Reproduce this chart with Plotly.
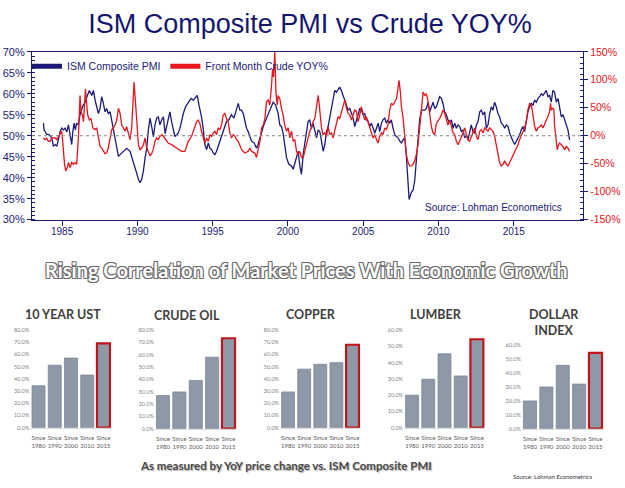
import plotly.graph_objects as go

# ---------------- DATA ----------------
ism_years = [
    1983.76, 1983.80, 1983.98, 1984.09, 1984.20, 1984.31, 1984.42, 1984.54, 1984.65, 1984.76, 1984.87, 1984.98,
    1985.09, 1985.20, 1985.31, 1985.42, 1985.53, 1985.64, 1985.71, 1985.80, 1985.88, 1985.97, 1986.08, 1986.19,
    1986.37, 1986.53, 1986.68, 1986.81, 1986.97, 1987.08, 1987.19, 1987.30, 1987.41, 1987.52, 1987.63, 1987.74,
    1987.85, 1987.96, 1988.07, 1988.19, 1988.30, 1988.41, 1988.52, 1988.63, 1988.74, 1988.85, 1989.07, 1989.29,
    1989.51, 1989.73, 1989.91, 1990.07, 1990.18, 1990.29, 1990.40, 1990.51, 1990.62, 1990.73, 1990.84, 1990.95,
    1991.06, 1991.17, 1991.28, 1991.39, 1991.50, 1991.62, 1991.73, 1991.84, 1992.05, 1992.16, 1992.27, 1992.38,
    1992.49, 1992.60, 1992.71, 1992.83, 1992.94, 1993.05, 1993.20, 1993.38, 1993.56, 1993.71, 1993.87, 1993.98,
    1994.09, 1994.15, 1994.26, 1994.37, 1994.48, 1994.60, 1994.71, 1994.82, 1994.93, 1995.04, 1995.15, 1995.26,
    1995.41, 1995.59, 1995.77, 1995.92, 1996.08, 1996.25, 1996.41, 1996.59, 1996.70, 1996.81, 1996.92, 1997.03,
    1997.14, 1997.25, 1997.36, 1997.47, 1997.58, 1997.76, 1997.91, 1998.02, 1998.14, 1998.36, 1998.58, 1998.80,
    1999.02, 1999.18, 1999.35, 1999.46, 1999.57, 1999.68, 1999.79, 1999.91, 2000.06, 2000.24, 2000.35, 2000.46,
    2000.57, 2000.68, 2000.79, 2000.90, 2001.01, 2001.12, 2001.23, 2001.34, 2001.45, 2001.56, 2001.67, 2001.79,
    2001.90, 2002.01, 2002.12, 2002.23, 2002.34, 2002.45, 2002.56, 2002.67, 2002.78, 2002.89, 2003.00, 2003.11,
    2003.22, 2003.33, 2003.44, 2003.55, 2003.67, 2003.78, 2003.89, 2004.00, 2004.11, 2004.22, 2004.33, 2004.44,
    2004.55, 2004.66, 2004.77, 2004.88, 2004.99, 2005.10, 2005.21, 2005.33, 2005.44, 2005.55, 2005.66, 2005.77,
    2005.88, 2005.99, 2006.10, 2006.21, 2006.32, 2006.43, 2006.54, 2006.65, 2006.76, 2006.87, 2006.98, 2007.10,
    2007.21, 2007.32, 2007.43, 2007.54, 2007.65, 2007.76, 2007.87, 2007.98, 2008.05, 2008.20, 2008.31, 2008.42,
    2008.53, 2008.64, 2008.75, 2008.87, 2008.98, 2009.09, 2009.20, 2009.31, 2009.42, 2009.53, 2009.64, 2009.75,
    2009.86, 2009.97, 2010.08, 2010.19, 2010.30, 2010.41, 2010.52, 2010.63, 2010.75, 2010.86, 2010.97, 2011.08,
    2011.19, 2011.30, 2011.41, 2011.52, 2011.63, 2011.74, 2011.85, 2011.96, 2012.07, 2012.18, 2012.29, 2012.40,
    2012.52, 2012.63, 2012.74, 2012.85, 2012.96, 2013.07, 2013.18, 2013.29, 2013.40, 2013.51, 2013.62, 2013.73,
    2013.84, 2013.95, 2014.06, 2014.17, 2014.29, 2014.40, 2014.51, 2014.62, 2014.73, 2014.84, 2014.95, 2015.06,
    2015.17, 2015.28, 2015.39, 2015.50, 2015.61, 2015.72, 2015.83, 2015.94, 2016.06, 2016.17, 2016.28, 2016.39,
    2016.50, 2016.61, 2016.72, 2016.83, 2016.94, 2017.05, 2017.16, 2017.27, 2017.38, 2017.49, 2017.60, 2017.71,
    2017.83, 2017.94, 2018.05, 2018.16, 2018.27, 2018.38, 2018.49, 2018.60, 2018.71,
]
ism_pmi = [
    53.0, 51.4, 50.3, 50.3, 50.0, 49.5, 47.5, 47.9, 47.5, 49.0, 51.0, 51.8,
    51.4, 51.8, 50.9, 52.6, 50.6, 47.9, 51.0, 53.0, 51.4, 53.0, 52.6, 55.0,
    57.0, 58.0, 59.6, 60.8, 59.6, 60.8, 58.5, 57.0, 55.3, 56.5, 59.3, 57.7,
    55.7, 56.5, 55.3, 55.7, 53.4, 51.0, 49.5, 46.7, 45.1, 45.5, 46.3, 47.0,
    46.3, 44.0, 41.6, 39.6, 38.8, 39.6, 41.6, 44.7, 47.0, 51.4, 54.2, 52.2,
    49.8, 52.6, 54.2, 54.5, 52.6, 53.8, 54.5, 50.5, 53.8, 55.7, 53.4, 51.4,
    49.8, 50.2, 50.6, 51.8, 53.8, 55.3, 56.9, 58.0, 58.9, 58.5, 59.3, 59.6,
    57.3, 56.5, 54.5, 51.8, 47.9, 46.7, 48.3, 47.0, 46.7, 45.9, 45.5, 46.3,
    47.9, 49.5, 51.8, 53.4, 53.8, 55.0, 54.2, 56.5, 57.7, 56.1, 56.1, 55.3,
    53.4, 51.8, 51.0, 49.8, 48.7, 48.3, 47.0, 47.9, 49.5, 52.2, 54.2, 56.1,
    58.0, 57.3, 55.3, 52.6, 52.2, 50.6, 47.0, 44.7, 43.2, 42.8, 42.0, 43.6,
    44.7, 46.3, 42.8, 40.8, 45.5, 47.9, 51.4, 53.4, 53.8, 51.8, 53.0, 51.0,
    49.5, 51.4, 51.0, 48.7, 46.3, 47.9, 51.0, 52.2, 54.2, 56.5, 58.9, 60.8,
    60.4, 61.2, 61.6, 60.8, 59.6, 58.0, 56.9, 56.1, 56.5, 55.3, 54.2, 52.2,
    53.4, 55.0, 56.5, 56.1, 55.0, 55.3, 53.8, 53.4, 52.2, 53.0, 51.8, 50.6,
    51.8, 53.0, 51.0, 53.0, 53.8, 54.2, 53.0, 53.8, 53.0, 53.8, 51.8, 50.2,
    49.8, 49.5, 48.7, 48.3, 49.0, 49.5, 45.0, 39.5, 34.8, 36.5, 37.0, 39.2,
    44.0, 47.9, 53.8, 56.1, 56.1, 56.1, 56.5, 58.0, 55.7, 56.9, 58.0, 56.5,
    56.9, 58.1, 59.3, 58.9, 57.7, 55.7, 55.0, 53.8, 53.0, 53.8, 51.8, 53.0,
    51.8, 52.6, 52.2, 51.0, 51.4, 49.5, 50.2, 49.0, 50.6, 52.6, 51.0, 50.6,
    52.6, 53.4, 55.7, 56.1, 55.0, 55.7, 51.8, 52.6, 55.3, 56.9, 56.1, 58.0,
    56.9, 55.3, 54.5, 53.0, 52.6, 51.8, 52.6, 52.2, 50.6, 49.5, 48.7, 47.9,
    48.7, 49.5, 50.2, 51.4, 52.2, 51.0, 53.4, 55.7, 56.9, 57.7, 57.3, 58.5,
    58.0, 58.9, 59.3, 60.0, 59.6, 60.4, 60.8, 59.3, 59.6, 58.0, 60.8, 60.4,
    58.0, 58.9, 56.9, 54.5, 55.0, 53.8, 52.2, 51.4, 49.0,
]

crude_years = [
    1983.76, 1983.87, 1983.98, 1984.09, 1984.20, 1984.31, 1984.54, 1984.65, 1984.76, 1984.87, 1984.98, 1985.04,
    1985.09, 1985.16, 1985.24, 1985.35, 1985.42, 1985.53, 1985.64, 1985.75, 1985.86, 1985.97, 1986.08, 1986.15,
    1986.19, 1986.26, 1986.35, 1986.42, 1986.48, 1986.55, 1986.64, 1986.70, 1986.81, 1986.92, 1987.04, 1987.19,
    1987.30, 1987.41, 1987.52, 1987.63, 1987.74, 1987.85, 1987.96, 1988.07, 1988.19, 1988.30, 1988.41, 1988.52,
    1988.63, 1988.74, 1988.85, 1988.96, 1989.07, 1989.18, 1989.29, 1989.40, 1989.51, 1989.62, 1989.69, 1989.78,
    1989.87, 1989.96, 1990.07, 1990.18, 1990.29, 1990.40, 1990.51, 1990.62, 1990.73, 1990.84, 1990.95, 1991.06,
    1991.17, 1991.28, 1991.39, 1991.50, 1991.62, 1991.73, 1992.05, 1992.27, 1992.60, 1992.94, 1993.16, 1993.38,
    1993.60, 1993.82, 1993.93, 1994.04, 1994.15, 1994.26, 1994.37, 1994.48, 1994.60, 1994.71, 1994.82, 1994.93,
    1995.04, 1995.15, 1995.26, 1995.37, 1995.48, 1995.59, 1995.70, 1995.81, 1995.92, 1996.03, 1996.14, 1996.25,
    1996.37, 1996.48, 1996.59, 1996.70, 1996.92, 1997.14, 1997.36, 1997.47, 1997.58, 1997.80, 1997.91, 1998.02,
    1998.14, 1998.25, 1998.36, 1998.47, 1998.58, 1998.69, 1998.80, 1998.91, 1998.98, 1999.04, 1999.13, 1999.20,
    1999.29, 1999.35, 1999.46, 1999.57, 1999.68, 1999.79, 1999.91, 2000.02, 2000.13, 2000.24, 2000.35, 2000.46,
    2000.57, 2000.68, 2000.79, 2000.90, 2001.01, 2001.12, 2001.23, 2001.34, 2001.45, 2001.56, 2001.67, 2001.79,
    2001.90, 2002.01, 2002.07, 2002.16, 2002.23, 2002.34, 2002.45, 2002.56, 2002.67, 2002.78, 2002.89, 2003.00,
    2003.11, 2003.22, 2003.33, 2003.44, 2003.55, 2003.67, 2003.78, 2003.89, 2004.00, 2004.11, 2004.22, 2004.33,
    2004.44, 2004.55, 2004.66, 2004.77, 2004.88, 2004.99, 2005.10, 2005.21, 2005.33, 2005.44, 2005.55, 2005.66,
    2005.77, 2005.88, 2005.99, 2006.10, 2006.21, 2006.32, 2006.43, 2006.54, 2006.65, 2006.76, 2006.87, 2006.98,
    2007.10, 2007.21, 2007.32, 2007.38, 2007.47, 2007.54, 2007.65, 2007.76, 2007.87, 2007.98, 2008.09, 2008.20,
    2008.31, 2008.42, 2008.53, 2008.64, 2008.75, 2008.87, 2008.98, 2009.09, 2009.20, 2009.31, 2009.42, 2009.53,
    2009.64, 2009.75, 2009.86, 2009.97, 2010.08, 2010.19, 2010.30, 2010.41, 2010.52, 2010.63, 2010.75, 2010.86,
    2010.97, 2011.08, 2011.19, 2011.30, 2011.41, 2011.52, 2011.63, 2011.74, 2011.85, 2011.96, 2012.07, 2012.18,
    2012.29, 2012.40, 2012.52, 2012.63, 2012.74, 2012.85, 2012.96, 2013.07, 2013.18, 2013.29, 2013.40, 2013.51,
    2013.62, 2013.73, 2013.84, 2013.95, 2014.06, 2014.17, 2014.29, 2014.40, 2014.51, 2014.62, 2014.73, 2014.84,
    2014.95, 2015.06, 2015.17, 2015.28, 2015.39, 2015.50, 2015.61, 2015.72, 2015.83, 2015.94, 2016.06, 2016.17,
    2016.28, 2016.39, 2016.50, 2016.61, 2016.72, 2016.83, 2016.94, 2017.05, 2017.16, 2017.27, 2017.38, 2017.45,
    2017.49, 2017.60, 2017.67, 2017.71, 2017.83, 2017.89, 2017.98, 2018.05, 2018.16, 2018.27, 2018.38, 2018.49,
    2018.60, 2018.71,
]
crude_yoy = [
    -4, -7, -5, -10, -10, -4, -4, -7, -1, 5, 8, -10,
    -34, -51, -63, -57, -48, -57, -48, -51, -48, -51, -4, 37,
    72, 43, 37, 25, 49, 84, 55, 37, 28, 31, 14, 11,
    14, -4, -19, -22, -28, -32, -31, -22, -4, 11, 14, 19,
    28, 49, 40, 19, 14, 8, 16, 5, -7, 14, 49, 96,
    61, 19, -16, -25, -22, -16, -4, -22, -30, -36, -32, -24,
    -10, -4, -7, -1, 2, -1, -13, -16, -22, -28, -28, -10,
    -1, 14, 25, 28, 22, 8, -1, -13, -4, -10, 2, -1,
    5, 8, 2, 14, 11, 19, 37, 40, 31, 25, 5, -4,
    2, -1, -7, -10, -25, -31, -28, -22, -28, -31, -39, -25,
    -10, 14, 19, 31, 61, 64, 55, 90, 119, 105, 150, 78,
    55, 72, 66, 49, 37, 19, 8, 14, -4, 8, -10, -7,
    -28, -34, -28, -39, -39, -28, -16, -4, 8, 14, 25, 31,
    55, 72, 58, 28, 14, 2, 5, -1, 16, 2, 5, -4,
    8, 22, 34, 31, 43, 52, 64, 49, 40, 37, 28, 37,
    46, 43, 25, 37, 52, 40, 28, 34, 25, 14, 5, -4,
    2, -7, -13, -1, 5, 2, 14, 11, 19, 46, 58, 55,
    61, 66, 87, 99, 78, 52, 31, 2, -34, -48, -54, -54,
    -51, -45, -34, -16, 19, 55, 78, 72, 75, 61, 37, 16,
    5, 2, 22, 28, 31, 37, 46, 40, 31, 19, 28, 14,
    5, 2, -10, -16, -10, -4, 5, 14, 2, -7, -10, -1,
    8, 14, -1, -7, 8, 11, 5, 14, 11, 8, 14, 11,
    8, -1, -16, -34, -48, -54, -51, -45, -51, -54, -48, -39,
    -34, -28, -22, -16, -7, -1, 8, 14, 25, 46, 58, 55,
    37, 16, 8, 14, 16, 19, 14, 22, 28, 34, 43, 58,
    46, 49, 46, 19, -7, -25, -16, -13, -16, -19, -25, -19,
    -22, -28,
]

year_ticks = [1985, 1990, 1995, 2000, 2005, 2010, 2015]
pmi_ticks = [30, 35, 40, 45, 50, 55, 60, 65, 70]
crude_ticks = [-150, -100, -50, 0, 50, 100, 150]

periods = ["Since 1980", "Since 1990", "Since 2000", "Since 2010", "Since 2015"]
ust_corr = [34.4, 51.2, 57.1, 43.2, 69.1]
crude_corr = [26.9, 29.8, 39.0, 58.0, 73.4]
copper_corr = [29.3, 48.0, 52.0, 53.3, 68.0]
lumber_corr = [20.0, 29.8, 45.4, 31.8, 54.4]
dollar_corr = [19.8, 29.8, 45.3, 31.9, 54.2]
panel_titles = ["10 YEAR UST", "CRUDE OIL", "COPPER", "LUMBER", "DOLLAR<br>INDEX"]

# ---------------- STYLE / LAYOUT ----------------
W, H = 625, 488
def pxx(x):
    return x / W
def pyy(y):
    return 1 - y / H

NAVY = "#1b1b76"
RED = "#e8151c"
AX = "Liberation Sans, Arial, sans-serif"
CAL = "Lato, Open Sans, sans-serif"
BAR_FILL = "#8e99a7"
BAR_LINE = "#7d8795"
BAR_HI = "#c4121a"

fig = go.Figure()

fig.add_trace(go.Scatter(x=ism_years, y=ism_pmi, mode="lines", xaxis="x", yaxis="y",
                         line=dict(color=NAVY, width=1.3), showlegend=False, hoverinfo="skip"))
fig.add_trace(go.Scatter(x=crude_years, y=crude_yoy, mode="lines", xaxis="x", yaxis="y2",
                         line=dict(color=RED, width=1.3), showlegend=False, hoverinfo="skip"))
# legend entries
fig.add_trace(go.Scatter(x=[None], y=[None], mode="lines", name="ISM Composite PMI",
                         line=dict(color=NAVY, width=5)))
fig.add_trace(go.Scatter(x=[None], y=[None], mode="lines", name="Front Month Crude YOY%",
                         line=dict(color=RED, width=5), yaxis="y2"))

layout = dict(
    width=W, height=H, margin=dict(l=0, r=0, t=0, b=0),
    paper_bgcolor="white", plot_bgcolor="white",
    title=dict(text="ISM Composite PMI vs Crude YOY%", x=pxx(310), xanchor="center",
               y=pyy(24), yanchor="middle", font=dict(family=AX, size=27, color="#15156e")),
    showlegend=True,
    legend=dict(orientation="h", x=pxx(27), y=pyy(47), xanchor="left", yanchor="top",
                bgcolor="rgba(0,0,0,0)", font=dict(family=AX, size=10.5, color=NAVY),
                itemwidth=30, tracegroupgap=0),
    xaxis=dict(domain=[pxx(32), pxx(583)], range=[1983.0, 2019.6], tickvals=year_ticks,
               ticktext=[str(v) for v in year_ticks],
               showgrid=False, zeroline=False, showline=True, linecolor=NAVY, linewidth=1.2,
               mirror=True, ticks="outside", ticklen=5, tickcolor=NAVY, ticklabelstandoff=-3,
               tickfont=dict(family=AX, size=10, color=NAVY), anchor="y"),
    yaxis=dict(domain=[pyy(219), pyy(47)], range=[30, 70], tickvals=pmi_ticks,
               ticktext=[f"{v}%" for v in pmi_ticks],
               showgrid=False, zeroline=False, showline=True, linecolor=NAVY, linewidth=1.2,
               ticks="outside", ticklen=4, tickcolor=NAVY,
               minor=dict(dtick=1, ticks="inside", ticklen=3, tickcolor=NAVY, showgrid=False),
               tickfont=dict(family=AX, size=11, color=NAVY), anchor="x"),
    yaxis2=dict(range=[-150, 150], tickvals=crude_ticks, ticktext=[f"{v}%" for v in crude_ticks],
                overlaying="y", side="right",
                showgrid=False, zeroline=False, showline=True, linecolor=NAVY, linewidth=1.2,
                ticks="outside", ticklen=4, tickcolor=NAVY,
                minor=dict(dtick=10, ticks="inside", ticklen=3, tickcolor=NAVY, showgrid=False),
                tickfont=dict(family=AX, size=10.5, color=RED), anchor="x"),
    shapes=[dict(type="line", xref="x domain", yref="y", x0=0, x1=1, y0=50, y1=50,
                 line=dict(color="#8a8a8a", width=1, dash="dot"))],
    annotations=[],
)

# bar panels: (values, x-domain px, y bottom px, y top px, y max)
panels = [
    (ust_corr, 30.4, 111.6, 432.3, 332.3, 80),
    (crude_corr, 154.8, 236.7, 433.3, 332.3, 80),
    (copper_corr, 280.0, 360.6, 432.3, 332.3, 80),
    (lumber_corr, 404.0, 485.0, 432.3, 332.3, 60),
    (dollar_corr, 521.8, 603.7, 433.3, 347.3, 60),
]
title_pos = [(62.5, 316), (186.5, 317), (310.5, 316), (436, 316), (554, 324)]

for i, (vals, x0, x1, yb, yt, ymax) in enumerate(panels):
    k = i + 3
    fig.add_trace(go.Bar(
        x=periods, y=vals, xaxis=f"x{k}", yaxis=f"y{k}", showlegend=False, hoverinfo="skip",
        marker=dict(color=[BAR_FILL] * 5,
                    line=dict(color=[BAR_LINE] * 4 + [BAR_HI], width=[0.8] * 4 + [2.2])),
    ))
    layout[f"xaxis{k}"] = dict(domain=[pxx(x0), pxx(x1)], anchor=f"y{k}", showgrid=False,
                               zeroline=False, showline=True, linecolor="#d9d9d9", linewidth=1,
                               ticks="", tickvals=periods, tickangle=0, ticklabelstandoff=4,
                               ticktext=[p.replace(" ", "<br>") for p in periods],
                               tickfont=dict(family=CAL, size=6, color="#595959"))
    layout[f"yaxis{k}"] = dict(domain=[pyy(yb), pyy(yt)], anchor=f"x{k}", range=[0, ymax],
                               dtick=10, tickformat=".1f", ticksuffix="%", showgrid=False,
                               zeroline=False, showline=False, ticks="",
                               tickfont=dict(family=CAL, size=5.5, color="#7f7f7f"))
    tx, ty = title_pos[i]
    layout["annotations"].append(dict(
        text=panel_titles[i], xref="paper", yref="paper", x=pxx(tx), y=pyy(ty),
        xanchor="center", yanchor="middle", showarrow=False,
        font=dict(family=CAL, size=12.5, color="#404040", weight="bold")))

layout["annotations"] += [
    dict(text="Source: Lohman Econometrics", xref="paper", yref="paper", x=pxx(564), y=pyy(207),
         xanchor="right", yanchor="middle", showarrow=False,
         font=dict(family=AX, size=10, color=NAVY)),
    dict(text="Rising Correlation of Market Prices With Economic Growth", xref="paper", yref="paper",
         x=pxx(306), y=pyy(271), xanchor="center", yanchor="middle", showarrow=False,
         font=dict(family=CAL, size=20, color="#ffffff", weight="bold",
                   shadow="-1px -1px 0 #6a6a6a, 1px -1px 0 #6a6a6a, -1px 1px 0 #6a6a6a, 1px 1px 0 #6a6a6a")),
    dict(text="As measured by YoY price change vs. ISM Composite PMI", xref="paper", yref="paper",
         x=pxx(286), y=pyy(471), xanchor="center", yanchor="middle", showarrow=False,
         font=dict(family=CAL, size=11.5, color="#4a4a4a", weight="bold",
                   shadow="1px 1px 1px #b0b0b0")),
    dict(text="Source: Lohman Econometrics", xref="paper", yref="paper", x=pxx(594), y=pyy(482),
         xanchor="right", yanchor="middle", showarrow=False,
         font=dict(family=CAL, size=6, color="#333333")),
]

fig.update_layout(**layout)
fig.write_html("out.html")
